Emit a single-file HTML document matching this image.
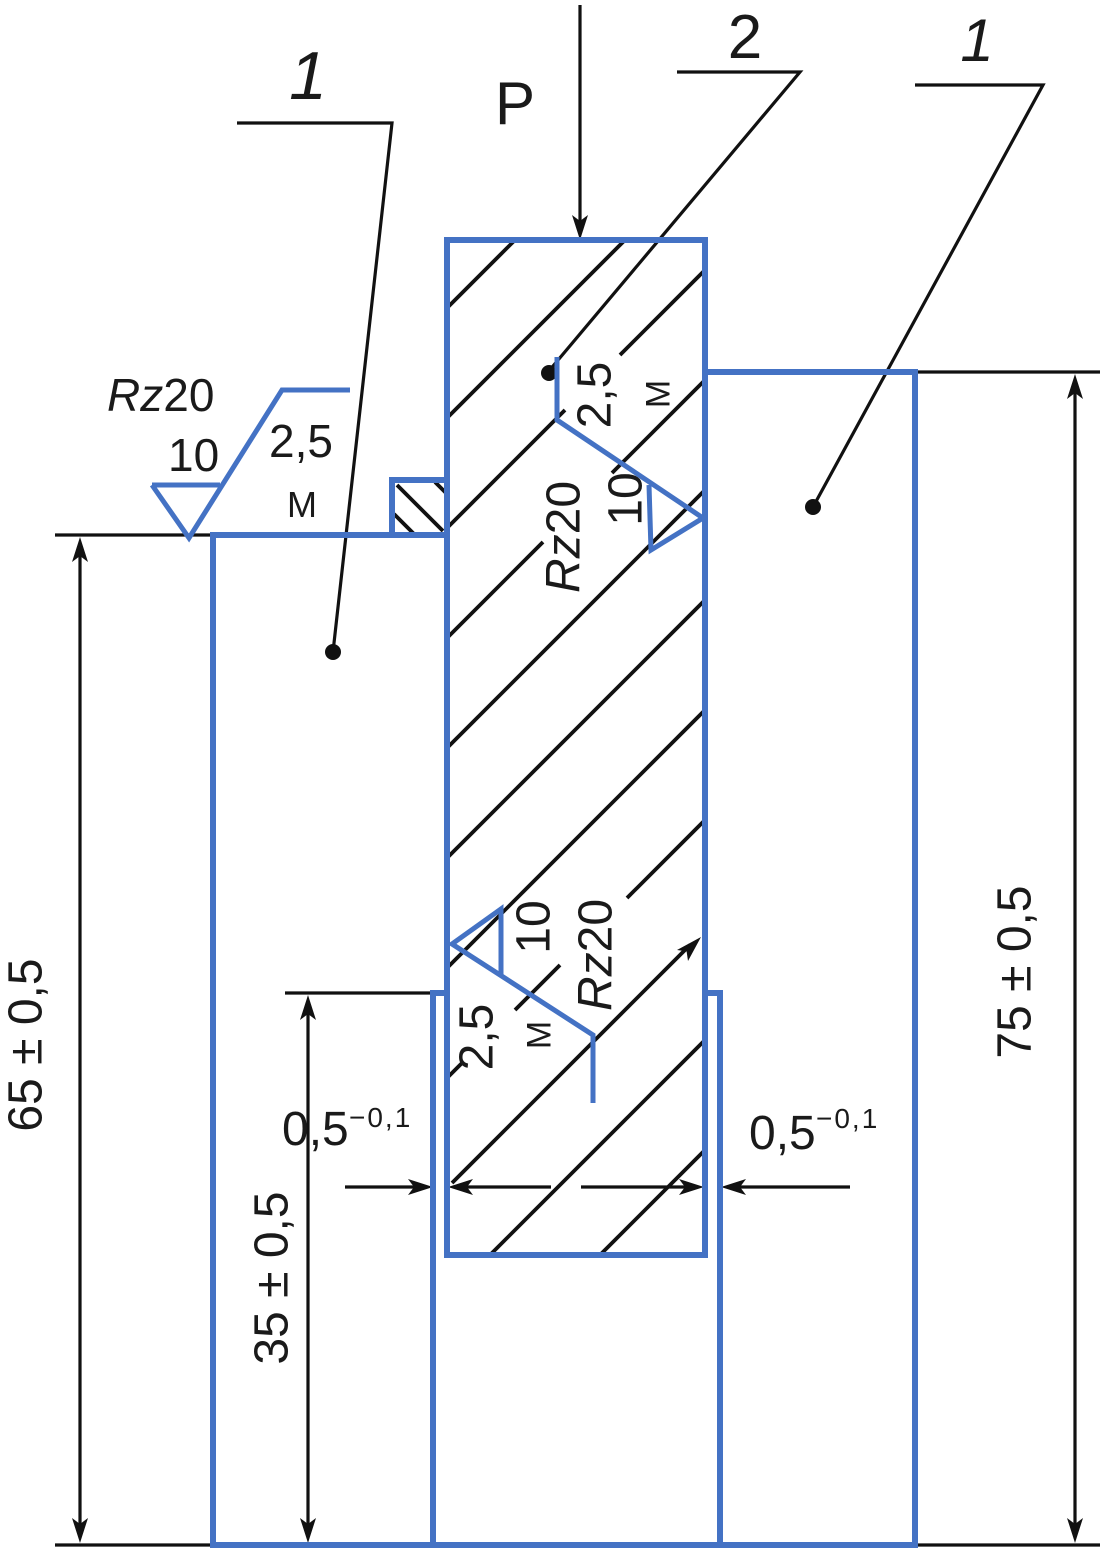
<!DOCTYPE html>
<html>
<head>
<meta charset="utf-8">
<style>
  html, body { margin: 0; padding: 0; background: #ffffff; }
  svg { display: block; }
  text { font-family: "Liberation Sans", Arial, sans-serif; fill: #1a1a1a; }
</style>
</head>
<body>
<svg width="1103" height="1552" viewBox="0 0 1103 1552" xmlns="http://www.w3.org/2000/svg">
  <rect width="1103" height="1552" fill="#ffffff"/>

  <!-- ============ HATCHING (central part) ============ -->
  <g stroke="#111" stroke-width="3.8" fill="none" stroke-linecap="butt">
    <line x1="447" y1="308" x2="515" y2="240"/>
    <line x1="447" y1="418" x2="625" y2="240"/>
    <line x1="447" y1="528" x2="565" y2="410"/>
    <line x1="620" y1="355" x2="705" y2="270"/>
    <line x1="447" y1="638" x2="543" y2="542"/>
    <line x1="612" y1="473" x2="705" y2="380"/>
    <line x1="447" y1="748" x2="705" y2="490"/>
    <line x1="447" y1="858" x2="705" y2="600"/>
    <line x1="447" y1="968" x2="705" y2="710"/>
    <line x1="447" y1="1078" x2="462" y2="1063"/>
    <line x1="515" y1="1010" x2="560" y2="965"/>
    <line x1="627" y1="898" x2="705" y2="820"/>
    <line x1="452" y1="1183" x2="690" y2="945"/>
    <line x1="490" y1="1255" x2="705" y2="1040"/>
    <line x1="600" y1="1255" x2="705" y2="1150"/>
    <!-- small hatched square -->
    <line x1="397" y1="485" x2="443" y2="531"/>
    <line x1="394" y1="514" x2="415" y2="535"/>
    <line x1="435" y1="482" x2="446" y2="493"/>
  </g>
  <!-- arrowhead on diagonal -->
  <polygon points="701,937 688,961 686.6,951.4 677,950" fill="#111"/>

  <!-- ============ BLACK LINES (leaders, dims, extension) ============ -->
  <g stroke="#111" stroke-width="3.2" fill="none">
    <!-- leader 1 left -->
    <polyline points="237,123 392,123 333,652"/>
    <!-- leader 2 -->
    <polyline points="677,72 800,72 548,372"/>
    <!-- leader 1 right -->
    <polyline points="915,85 1043,85 813,507"/>
    <!-- P arrow -->
    <line x1="580" y1="5" x2="580" y2="222"/>
    <!-- extension lines -->
    <line x1="55" y1="535" x2="213" y2="535"/>
    <line x1="915" y1="372" x2="1100" y2="372"/>
    <line x1="285" y1="993" x2="433" y2="993"/>
    <line x1="55" y1="1545" x2="213" y2="1545"/>
    <line x1="915" y1="1545" x2="1100" y2="1545"/>
    <!-- dim lines -->
    <line x1="80" y1="550" x2="80" y2="1530"/>
    <line x1="1075" y1="386" x2="1075" y2="1530"/>
    <line x1="308" y1="1008" x2="308" y2="1530"/>
    <!-- 0,5 dims -->
    <line x1="345" y1="1187" x2="420" y2="1187"/>
    <line x1="460" y1="1187" x2="551" y2="1187"/>
    <line x1="581" y1="1187" x2="692" y2="1187"/>
    <line x1="733" y1="1187" x2="850" y2="1187"/>
  </g>

  <!-- arrowheads -->
  <g fill="#111">
    <polygon points="580,240 572,215 580,221 588,215"/>
    <polygon points="80,537 72,562 80,556 88,562"/>
    <polygon points="80,1543 72,1518 80,1524 88,1518"/>
    <polygon points="1075,374 1067,399 1075,393 1083,399"/>
    <polygon points="1075,1543 1067,1518 1075,1524 1083,1518"/>
    <polygon points="308,995 300,1020 308,1014 316,1020"/>
    <polygon points="308,1543 300,1518 308,1524 316,1518"/>
    <polygon points="433,1187 408,1179 414,1187 408,1195"/>
    <polygon points="448,1187 473,1179 467,1187 473,1195"/>
    <polygon points="704,1187 679,1179 685,1187 679,1195"/>
    <polygon points="721,1187 746,1179 740,1187 746,1195"/>
  </g>

  <!-- dots -->
  <g fill="#111">
    <circle cx="333" cy="652" r="8"/>
    <circle cx="549" cy="373" r="8"/>
    <circle cx="813" cy="507" r="8"/>
  </g>

  <!-- ============ BLUE OUTLINES ============ -->
  <g stroke="#4472c4" stroke-width="6" fill="none" stroke-linejoin="miter">
    <!-- central part -->
    <rect x="447" y="240" width="258" height="1015"/>
    <!-- left part -->
    <polyline points="213,1545 213,535 447,535"/>
    <polyline points="447,993 433,993 433,1545"/>
    <!-- small square -->
    <polyline points="392,535 392,480 447,480"/>
    <!-- right part -->
    <polyline points="705,372 915,372 915,1545"/>
    <polyline points="705,993 720,993 720,1545"/>
    <!-- bottom -->
    <line x1="210" y1="1545" x2="918" y2="1545"/>
  </g>

  <!-- roughness symbols (blue) -->
  <g stroke="#4472c4" stroke-width="5" fill="none" stroke-linejoin="miter">
    <!-- top-left -->
    <polyline points="152,485 220,485"/>
    <polyline points="152,485 189,538 282,390 350,390"/>
    <!-- upper in central -->
    <polyline points="557,357 557,420 703,518 651,550 649,485"/>
    <!-- lower in central -->
    <polyline points="593,1103 593,1035 452,944 501,909 501,976"/>
  </g>

  <!-- ============ TEXT ============ -->
  <text x="308" y="99" font-size="68" font-style="italic" text-anchor="middle">1</text>
  <text x="495" y="124" font-size="60">P</text>
  <text x="745" y="58" font-size="62" text-anchor="middle">2</text>
  <text x="977" y="61" font-size="60" font-style="italic" text-anchor="middle">1</text>

  <!-- top-left roughness -->
  <text x="107" y="411" font-size="46"><tspan font-style="italic">Rz</tspan>20</text>
  <text x="168" y="471" font-size="46">10</text>
  <text x="269" y="457" font-size="46">2,5</text>
  <text x="287" y="517" font-size="36">М</text>

  <!-- upper symbol (rotated) -->
  <text transform="translate(593,395) rotate(-90)" font-size="48" text-anchor="middle" dy="0.36em">2,5</text>
  <text transform="translate(657,394) rotate(-90)" font-size="34" text-anchor="middle" dy="0.36em">М</text>
  <text transform="translate(562,537) rotate(-90)" font-size="48" text-anchor="middle" dy="0.36em"><tspan font-style="italic">Rz</tspan>20</text>
  <text transform="translate(624,499) rotate(-90)" font-size="48" text-anchor="middle" dy="0.36em">10</text>

  <!-- lower symbol (rotated) -->
  <text transform="translate(532,927) rotate(-90)" font-size="48" text-anchor="middle" dy="0.36em">10</text>
  <text transform="translate(594,955) rotate(-90)" font-size="48" text-anchor="middle" dy="0.36em"><tspan font-style="italic">Rz</tspan>20</text>
  <text transform="translate(475,1037) rotate(-90)" font-size="48" text-anchor="middle" dy="0.36em">2,5</text>
  <text transform="translate(538,1035) rotate(-90)" font-size="34" text-anchor="middle" dy="0.36em">М</text>

  <!-- dimensions -->
  <text transform="translate(24,1045) rotate(-90)" font-size="48" text-anchor="middle" dy="0.36em">65 ± 0,5</text>
  <text transform="translate(1013,972) rotate(-90)" font-size="48" text-anchor="middle" dy="0.36em">75 ± 0,5</text>
  <text transform="translate(270,1278) rotate(-90)" font-size="48" text-anchor="middle" dy="0.36em">35 ± 0,5</text>

  <text x="282" y="1145" font-size="48">0,5</text>
  <text x="349" y="1127" font-size="28" letter-spacing="2">−0,1</text>
  <text x="749" y="1149" font-size="48">0,5</text>
  <text x="816" y="1128" font-size="28" letter-spacing="2">−0,1</text>
</svg>
</body>
</html>
